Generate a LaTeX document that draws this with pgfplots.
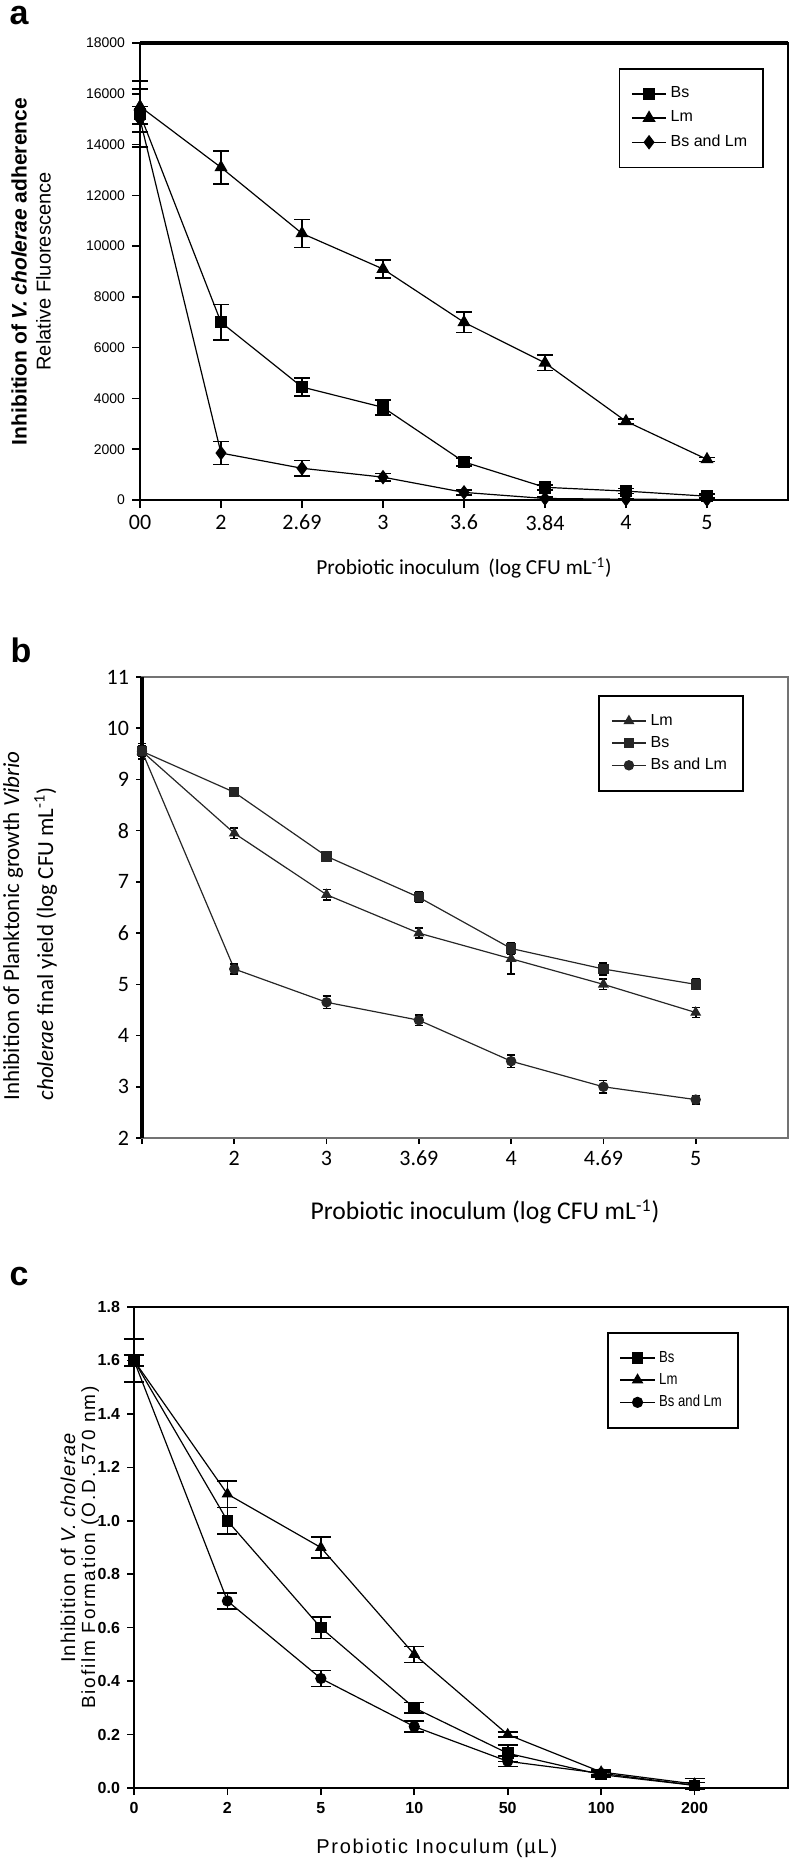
\documentclass[border=0pt]{standalone}
\usepackage{fontspec}
\setmainfont{Liberation Sans}
\newfontfamily\calib{Carlito}
\newfontfamily\narrowf[FakeStretch=0.82]{Liberation Sans}
\newfontfamily\spacedA[LetterSpace=5.2]{Liberation Sans}
\newfontfamily\spacedB[LetterSpace=9.9]{Liberation Sans}
\newfontfamily\spacedC[LetterSpace=8.7]{Liberation Sans}
\usepackage{pgfplots}
\usepackage{pgfplotstable}
\pgfplotsset{compat=1.18}

\pgfplotstableread{
x Bs eBs Lm eLm BL eBL
0 15200 1300 15500 700 15000 500
1 7000 700 13100 650 1850 450
2 4450 350 10500 550 1250 300
3 3650 300 9100 350 900 150
4 1500 150 7000 400 300 100
5 500 100 5400 300 60 50
6 350 100 3100 100 30 30
7 150 80 1600 80 20 20
}\tableA

\pgfplotstableread{
x Lm eLm Bs eBs BL eBL
0 9.55 0.1 9.55 0.15 9.55 0.1
1 7.95 0.1 8.75 0.08 5.3 0.1
2 6.75 0.1 7.5 0.05 4.65 0.12
3 6.0 0.1 6.7 0.1 4.3 0.1
4 5.5 0.3 5.7 0.12 3.5 0.12
5 5.0 0.1 5.3 0.12 3.0 0.12
6 4.45 0.1 5.0 0.1 2.75 0.08
}\tableB

\pgfplotstableread{
x Bs eBs Lm eLm BL eBL
0 1.6 0.08 1.6 0.02 1.6 0.02
1 1.0 0.05 1.1 0.05 0.7 0.03
2 0.6 0.04 0.9 0.04 0.41 0.03
3 0.3 0.02 0.5 0.03 0.23 0.02
4 0.13 0.03 0.2 0.01 0.1 0.02
5 0.05 0.01 0.06 0.01 0.055 0.01
6 0.01 0.01 0.015 0.02 0.01 0.01
}\tableC

\pgfplotsset{
  myplot/.style={black, line width=0.6pt, mark options={solid}},
  myerr/.style={error bars/.cd, y dir=both, y explicit,
     error bar style={line width=0.8pt, black},
     error mark options={rotate=90, mark size=#1, line width=0.8pt, black}},
}

\begin{document}
\begin{tikzpicture}
\path[use as bounding box] (0,0) rectangle (396.5pt,-932.5pt);

% panel labels
\node[font=\bfseries\fontsize{17}{18}\selectfont] at (9.5pt,-8pt) {a};
\node[font=\bfseries\fontsize{17}{18}\selectfont] at (10.5pt,-325pt) {b};
\node[font=\bfseries\fontsize{17}{18}\selectfont] at (9.5pt,-638pt) {c};

% ---------------- panel a
\begin{axis}[
  at={(70pt,-250pt)}, anchor=south west,
  scale only axis, width=324pt, height=228.5pt,
  xmin=0, xmax=8, ymin=0, ymax=18000, clip=false,
  xtick={0,...,7},
  xticklabels={00,\raisebox{-1.8pt}{2},\raisebox{-6pt}{2.69},\raisebox{-2.4pt}{3},3.6,\raisebox{3pt}{3.84},4,5},
  ytick={0,2000,...,18000},
  yticklabels={0,2000,4000,6000,8000,10000,12000,14000,16000,18000},
  scaled y ticks=false,
  tick align=outside, xtick pos=bottom, ytick pos=left,
  major tick length=4pt,
  tick style={black, line width=0.8pt},
  xticklabel style={font=\calib\fontsize{11}{12}\selectfont},
  yticklabel style={font=\fontsize{7}{8}\selectfont},
  axis line style={line width=0.8pt},
  xlabel={\calib Probiotic inoculum\, (log CFU mL\textsuperscript{-1})},
  xlabel style={at={(axis description cs:0.5,0)}, anchor=center, yshift=-34pt, font=\fontsize{10.7}{12}\selectfont},
  ylabel={{\bfseries\fontsize{10.5}{12}\selectfont Inhibition of \textit{V. cholerae} adherence}\\[0pt]{\fontsize{10}{11}\selectfont Relative Fluorescence}},
  ylabel style={align=center, at={(axis description cs:-0.168,0.5)}, anchor=center},
  legend style={at={(0.963,0.945)}, anchor=north east, draw=black, line width=0.8pt,
     inner xsep=6pt, inner ysep=7pt, font=\fontsize{8}{9}\selectfont, row sep=1pt},
  legend cell align=left,
]
\draw[line width=2.2pt] (rel axis cs:0,1) -- (rel axis cs:1,1);
\addplot[myplot, mark=square*, mark size=2.8pt, myerr=4pt] table[x=x, y=Bs, y error=eBs]{\tableA};
\addlegendentry{Bs}
\addplot[myplot, mark=triangle*, mark size=3.2pt, myerr=4pt] table[x=x, y=Lm, y error=eLm]{\tableA};
\addlegendentry{Lm}
\addplot[myplot, mark=diamond*, mark size=3.2pt, myerr=4pt] table[x=x, y=BL, y error=eBL]{\tableA};
\addlegendentry{Bs and Lm}
\end{axis}

% ---------------- panel b
\begin{axis}[
  at={(71pt,-569pt)}, anchor=south west,
  scale only axis, width=323pt, height=230.5pt,
  xmin=0, xmax=7, ymin=2, ymax=11, clip=false,
  xtick={0,...,6},
  xticklabels={,2,3,3.69,4,4.69,5},
  ytick={2,...,11},
  yticklabels={2,3,4,5,6,7,8,9,10,11},
  tick align=outside, xtick pos=bottom, ytick pos=left,
  major tick length=3pt,
  tick style={black, line width=0.8pt},
  xticklabel style={font=\calib\fontsize{11}{12}\selectfont},
  yticklabel style={font=\calib\fontsize{11}{12}\selectfont},
  axis line style={line width=0.8pt, black!55},
  xlabel={\calib Probiotic inoculum (log CFU mL\textsuperscript{-1})},
  xlabel style={at={(axis description cs:0.531,0)}, anchor=center, yshift=-37pt, font=\fontsize{12.8}{14}\selectfont},
  ylabel={\calib Inhibition of Planktonic growth \textit{Vibrio}\\\calib\textit{cholerae} final yield (log CFU mL\textsuperscript{-1})},
  ylabel style={align=left, at={(axis description cs:-0.173,0.46)}, anchor=center, font=\fontsize{11.5}{17}\selectfont},
  legend style={at={(0.932,0.961)}, anchor=north east, draw=black, line width=1pt,
     inner xsep=6pt, inner ysep=7pt, font=\fontsize{8}{9}\selectfont, row sep=0pt},
  legend cell align=left,
]
\draw[line width=1.6pt] (rel axis cs:0,0) -- (rel axis cs:0,1);
\addplot[myplot, black!85, mark=triangle*, mark size=2.6pt, myerr=2pt] table[x=x, y=Lm, y error=eLm]{\tableB};
\addlegendentry{Lm}
\addplot[myplot, black!85, mark=square*, mark size=2.3pt, myerr=2pt] table[x=x, y=Bs, y error=eBs]{\tableB};
\addlegendentry{Bs}
\addplot[myplot, black!85, mark=*, mark size=2.3pt, myerr=2pt] table[x=x, y=BL, y error=eBL]{\tableB};
\addlegendentry{Bs and Lm}
\end{axis}

% ---------------- panel c
\begin{axis}[
  at={(67pt,-894pt)}, anchor=south west,
  scale only axis, width=327pt, height=240.5pt,
  xmin=0, xmax=7, ymin=0, ymax=1.8, clip=false,
  xtick={0,...,6},
  xticklabels={0,2,5,10,50,100,200},
  ytick={0,0.2,...,1.8},
  yticklabels={0.0,0.2,0.4,0.6,0.8,1.0,1.2,1.4,1.6,1.8},
  tick align=outside, xtick pos=bottom, ytick pos=left,
  major tick length=3.5pt,
  tick style={black, line width=0.8pt},
  xticklabel style={font=\bfseries\fontsize{8}{9}\selectfont},
  yticklabel style={font=\bfseries\fontsize{8}{9}\selectfont},
  axis line style={line width=0.8pt},
  xlabel={\spacedC Probiotic Inoculum (\textmu L)},
  xlabel style={at={(axis description cs:0.463,0)}, anchor=center, yshift=-30pt, font=\fontsize{10}{12}\selectfont},
  ylabel={{\spacedA\fontsize{10}{12}\selectfont Inhibition of \textit{V. cholerae}}\\[-2pt]{\spacedB\fontsize{9.5}{11}\selectfont Biofilm Formation (O.D. 570 nm)}},
  ylabel style={align=center, at={(axis description cs:-0.083,0.5)}, anchor=center},
  legend style={at={(0.925,0.948)}, anchor=north east, draw=black, line width=1pt,
     inner xsep=6pt, inner ysep=7pt, font=\narrowf\fontsize{8}{9}\selectfont, row sep=0pt},
  legend cell align=left,
]
\addplot[myplot, mark=square*, mark size=2.6pt, myerr=5pt] table[x=x, y=Bs, y error=eBs]{\tableC};
\addlegendentry{Bs}
\addplot[myplot, mark=triangle*, mark size=2.8pt, myerr=5pt] table[x=x, y=Lm, y error=eLm]{\tableC};
\addlegendentry{Lm}
\addplot[myplot, mark=*, mark size=2.5pt, myerr=5pt] table[x=x, y=BL, y error=eBL]{\tableC};
\addlegendentry{Bs and Lm}
\end{axis}
\end{tikzpicture}
\end{document}
